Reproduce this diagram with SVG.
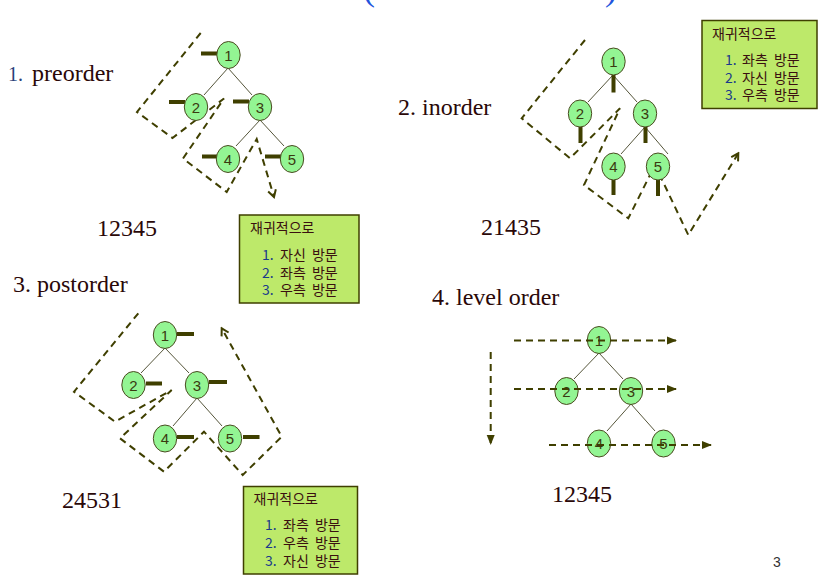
<svg xmlns="http://www.w3.org/2000/svg" width="824" height="587" viewBox="0 0 824 587">
<style>
.nd{fill:#93f593;stroke:#4a4a20;stroke-width:1}
.nt{font-family:"Liberation Sans",Arial,sans-serif;font-size:15px;fill:#3a3a10;text-anchor:middle}
.ed{stroke:#55553a;stroke-width:1;fill:none}
.bar{stroke:#3f3f00;stroke-width:4;fill:none}
.dp{stroke:#3f3f00;stroke-width:2;fill:none;stroke-dasharray:7 5}
.lbl{font-family:"Liberation Serif","Times New Roman",serif;font-size:24px;fill:#2a0808}
.box{fill:#bde96a;stroke:#3f3f00;stroke-width:1.5}
.kt{font-family:"Noto Sans CJK KR",sans-serif;font-size:14px;fill:#3a1010;word-spacing:3px}
.kn{font-family:"Noto Sans CJK KR",sans-serif;font-size:14px;fill:#1a3a8a}
</style>
<defs>
<marker id="chev" viewBox="0 0 10 10" refX="8" refY="5" markerWidth="10" markerHeight="10" markerUnits="userSpaceOnUse" orient="auto">
<path d="M1,1 L8,5 L1,9" fill="none" stroke="#3f3f00" stroke-width="2"/>
</marker>
<marker id="tri" viewBox="0 0 10 10" refX="9" refY="5" markerWidth="10" markerHeight="10" markerUnits="userSpaceOnUse" orient="auto">
<path d="M0,1 L10,5 L0,9 Z" fill="#3f3f00"/>
</marker>
</defs>

<g id="title-fragment" font-family="Liberation Serif,serif" font-size="36" fill="#2255dd">
<text x="363" y="0">(</text>
<text x="605" y="0">)</text>
</g>

<!-- labels -->
<g id="labels">
<text x="8" y="81" font-family="Liberation Serif,serif" font-size="20" fill="#2a3f7a">1.</text>
<text class="lbl" x="32" y="81">preorder</text>
<text class="lbl" x="97" y="236">12345</text>
<text class="lbl" x="398" y="115">2. inorder</text>
<text class="lbl" x="481" y="235">21435</text>
<text class="lbl" x="13" y="292">3. postorder</text>
<text class="lbl" x="62" y="508">24531</text>
<text class="lbl" x="432" y="305">4. level order</text>
<text class="lbl" x="552" y="502">12345</text>
<text x="773" y="567" font-family="Liberation Sans,Arial,sans-serif" font-size="14" fill="#333">3</text>
</g>

<!-- text boxes -->
<g id="box-pre">
<rect class="box" x="239.5" y="215" width="119.5" height="88"/>
<text class="kt" x="250" y="233">재귀적으로</text>
<text class="kn" x="262" y="260">1.</text><text class="kt" x="280" y="260">자신 방문</text>
<text class="kn" x="262" y="277.5">2.</text><text class="kt" x="280" y="277.5">좌측 방문</text>
<text class="kn" x="262" y="295">3.</text><text class="kt" x="280" y="295">우측 방문</text>
</g>
<g id="box-in">
<rect class="box" x="702" y="20.5" width="115" height="88"/>
<text class="kt" x="712" y="38.5">재귀적으로</text>
<text class="kn" x="725" y="65">1.</text><text class="kt" x="742" y="65">좌측 방문</text>
<text class="kn" x="725" y="82.5">2.</text><text class="kt" x="742" y="82.5">자신 방문</text>
<text class="kn" x="725" y="100">3.</text><text class="kt" x="742" y="100">우측 방문</text>
</g>
<g id="box-post">
<rect class="box" x="243.5" y="486.5" width="114" height="87.5"/>
<text class="kt" x="253.5" y="504">재귀적으로</text>
<text class="kn" x="265" y="530">1.</text><text class="kt" x="283" y="530">좌측 방문</text>
<text class="kn" x="265" y="548">2.</text><text class="kt" x="283" y="548">우측 방문</text>
<text class="kn" x="265" y="566">3.</text><text class="kt" x="283" y="566">자신 방문</text>
</g>

<!-- connectors -->
<g id="connectors">
<!-- preorder edges -->
<path class="ed" d="M228,68 L204,95 M228,68 L252,95 M260,120 L236,146 M260,120 L284,146"/>
<!-- inorder edges -->
<path class="ed" d="M613,75 L588,102 M613,75 L637,102 M645,127 L621,154 M645,127 L668,154"/>
<!-- postorder edges -->
<path class="ed" d="M165,348 L141,373 M165,348 L189,373 M197,398 L173,426 M197,398 L222,426"/>
<!-- level order edges -->
<path class="ed" d="M599,353 L574,379 M599,353 L623,379 M631,404 L607,431 M631,404 L655,431"/>

<!-- preorder bars -->
<path class="bar" d="M201,53.5 H217 M169,102 H185 M233,101.5 H249 M202,156.5 H217 M265,156.5 H281"/>
<!-- inorder bars -->
<path class="bar" d="M613.5,75 V92.5 M580.5,127 V143 M645.5,127 V143 M613.5,180 V195 M658,180 V196"/>
<!-- postorder bars -->
<path class="bar" d="M177,334 H194 M146,383.5 H162 M209,382 H227 M177,437 H194 M243,437 H259.5"/>

<!-- traversal paths -->
<path class="dp" marker-end="url(#chev)" d="M200.7,33 L137,112 L172.5,138 L224,98.5 L183,158.5 L226.7,192 L256.7,139 L274,197"/>
<path class="dp" marker-end="url(#chev)" d="M585,40 L521.7,118.3 L570,158.3 L620,108.3 L584,185 L628.3,218.3 L655,165 L688.3,235 L738.3,153.3"/>
<path class="dp" marker-end="url(#chev)" d="M138.3,313.3 L74,391.7 L115,421.7 L171.7,390 L120,438.3 L164,471.7 L204,431.7 L242.7,475 L281.7,436.7 L221.7,328.3"/>
</g>

<!-- nodes -->
<g id="pre-1"><ellipse class="nd" cx="228.5" cy="55" rx="11.7" ry="13.5"/><text class="nt" x="228.5" y="60.5">1</text></g>
<g id="pre-2"><ellipse class="nd" cx="196" cy="107" rx="11.7" ry="13.5"/><text class="nt" x="196" y="112.5">2</text></g>
<g id="pre-3"><ellipse class="nd" cx="260" cy="107" rx="11.7" ry="13.5"/><text class="nt" x="260" y="112.5">3</text></g>
<g id="pre-4"><ellipse class="nd" cx="228" cy="159" rx="11.7" ry="13.5"/><text class="nt" x="228" y="164.5">4</text></g>
<g id="pre-5"><ellipse class="nd" cx="292" cy="159" rx="11.7" ry="13.5"/><text class="nt" x="292" y="164.5">5</text></g>

<g id="in-1"><ellipse class="nd" cx="613.5" cy="61.5" rx="11.7" ry="13.5"/><text class="nt" x="613.5" y="67">1</text></g>
<g id="in-2"><ellipse class="nd" cx="580" cy="113.5" rx="11.7" ry="13.5"/><text class="nt" x="580" y="119">2</text></g>
<g id="in-3"><ellipse class="nd" cx="645" cy="113.5" rx="11.7" ry="13.5"/><text class="nt" x="645" y="119">3</text></g>
<g id="in-4"><ellipse class="nd" cx="613.5" cy="166.5" rx="11.7" ry="13.5"/><text class="nt" x="613.5" y="172">4</text></g>
<g id="in-5"><ellipse class="nd" cx="658" cy="166.5" rx="11.7" ry="13.5"/><text class="nt" x="658" y="172">5</text></g>

<g id="post-1"><ellipse class="nd" cx="165" cy="335" rx="11.7" ry="13.5"/><text class="nt" x="165" y="340.5">1</text></g>
<g id="post-2"><ellipse class="nd" cx="133.5" cy="385" rx="11.7" ry="13.5"/><text class="nt" x="133.5" y="390.5">2</text></g>
<g id="post-3"><ellipse class="nd" cx="197" cy="385" rx="11.7" ry="13.5"/><text class="nt" x="197" y="390.5">3</text></g>
<g id="post-4"><ellipse class="nd" cx="165" cy="438.5" rx="11.7" ry="13.5"/><text class="nt" x="165" y="444">4</text></g>
<g id="post-5"><ellipse class="nd" cx="230" cy="438.5" rx="11.7" ry="13.5"/><text class="nt" x="230" y="444">5</text></g>

<g id="lv-1"><ellipse class="nd" cx="599" cy="340" rx="11.7" ry="13.5"/><text class="nt" x="599" y="345.5">1</text></g>
<g id="lv-2"><ellipse class="nd" cx="566.5" cy="391" rx="11.7" ry="13.5"/><text class="nt" x="566.5" y="396.5">2</text></g>
<g id="lv-3"><ellipse class="nd" cx="631" cy="391" rx="11.7" ry="13.5"/><text class="nt" x="631" y="396.5">3</text></g>
<g id="lv-4"><ellipse class="nd" cx="599" cy="443.5" rx="11.7" ry="13.5"/><text class="nt" x="599" y="449">4</text></g>
<g id="lv-5"><ellipse class="nd" cx="663.5" cy="443.5" rx="11.7" ry="13.5"/><text class="nt" x="663.5" y="449">5</text></g>

<!-- level order arrows (drawn over nodes) -->
<g id="level-arrows">
<path class="dp" stroke-dasharray="6 5" marker-end="url(#tri)" d="M514,340.5 H676"/>
<path class="dp" stroke-dasharray="6 5" marker-end="url(#tri)" d="M514,389 H676"/>
<path class="dp" stroke-dasharray="6 5" marker-end="url(#tri)" d="M549,445 H711"/>
<path class="dp" stroke-dasharray="6 5" marker-end="url(#tri)" d="M490.7,352 V444"/>
</g>
</svg>
